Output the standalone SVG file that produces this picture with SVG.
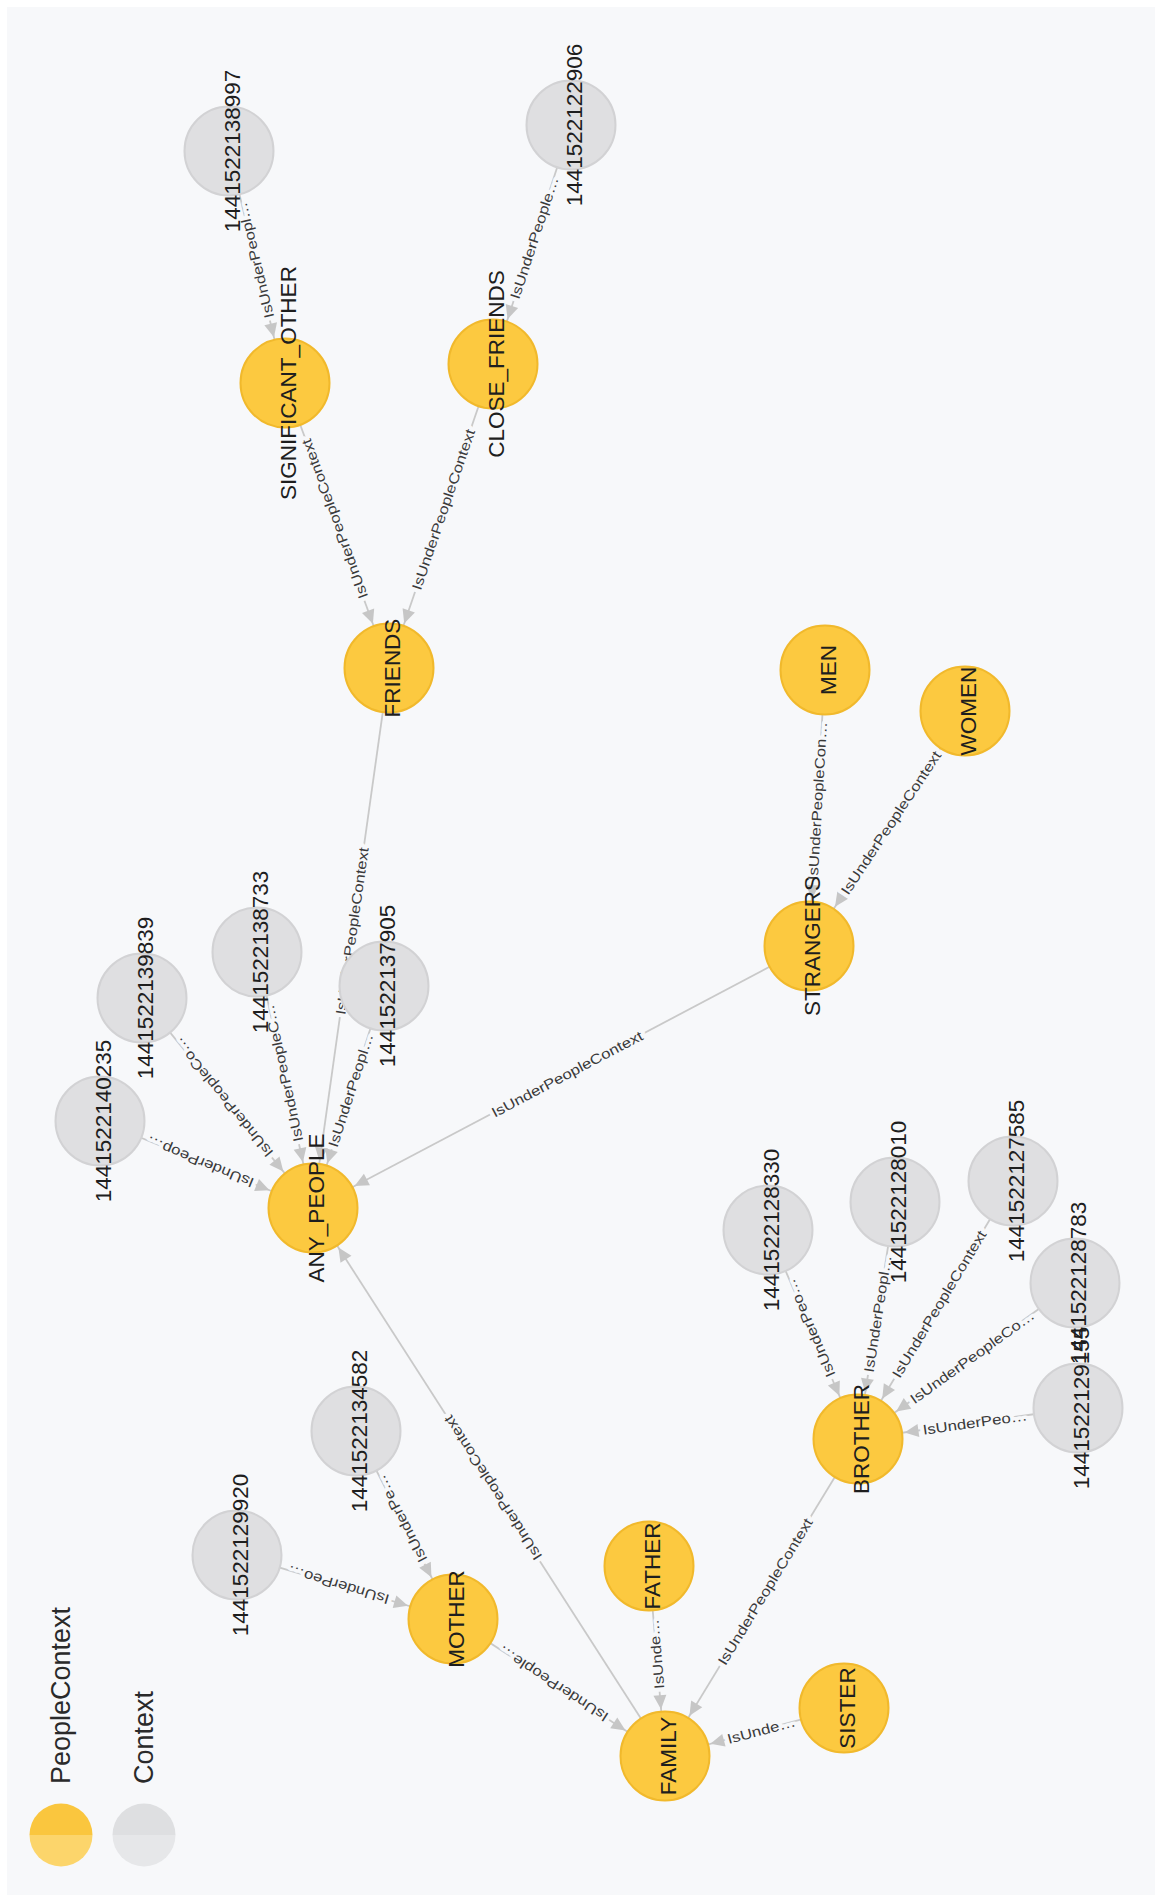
<svg xmlns="http://www.w3.org/2000/svg" width="1155" height="1895" viewBox="0 0 1155 1895">
  <style>
    .edge line { stroke: #c9c9c9; stroke-width: 1.8; marker-end: url(#arrow); }
    .elabel { font-family: "Liberation Sans", Arial, sans-serif; font-size: 14px; fill: #3a3a3a; text-anchor: middle; dominant-baseline: central; stroke: #f7f8fa; stroke-width: 7; stroke-linejoin: round; paint-order: stroke; }
    .people circle { fill: #fcc940; stroke: #f1b92c; stroke-width: 2; }
    .context circle { fill: #dfdfe1; stroke: #d2d2d4; stroke-width: 2; }
    .caption { font-family: "Liberation Sans", Arial, sans-serif; font-size: 22.5px; fill: #1e1e1e; text-anchor: middle; }
    .legend-text { font-family: "Liberation Sans", Arial, sans-serif; font-size: 27px; fill: #2a2a2a; }
  </style>
  <defs>
    <marker id="arrow" markerUnits="userSpaceOnUse" markerWidth="14" markerHeight="13" refX="61" refY="6.5" orient="auto" style="overflow:visible">
      <path d="M0,0 L14,6.5 L0,13 Z" fill="#c6c6c6"/>
    </marker>
  </defs>

  <!-- page and panel background -->
  <rect x="0" y="0" width="1155" height="1895" fill="#ffffff"/>
  <rect x="7" y="7" width="1148" height="1888" fill="#f7f8fa"/>

  <!-- relationships: drawn centre to centre, arrow placed at the target border -->
  <g id="connectors">
    <g class="edge">
      <line x1="229" y1="151" x2="285" y2="383"/>
      <line x1="571" y1="125" x2="493" y2="364"/>
      <line x1="285" y1="383" x2="389" y2="668"/>
      <line x1="493" y1="364" x2="389" y2="668"/>
      <line x1="389" y1="668" x2="313" y2="1208"/>
      <line x1="825" y1="670" x2="809" y2="946"/>
      <line x1="965" y1="711" x2="809" y2="946"/>
      <line x1="809" y1="946" x2="313" y2="1208"/>
      <line x1="100" y1="1121" x2="313" y2="1208"/>
      <line x1="142" y1="998" x2="313" y2="1208"/>
      <line x1="257" y1="952" x2="313" y2="1208"/>
      <line x1="384" y1="986" x2="313" y2="1208"/>
      <line x1="665" y1="1756" x2="313" y2="1208"/>
      <line x1="356" y1="1431" x2="453" y2="1619"/>
      <line x1="237" y1="1555" x2="453" y2="1619"/>
      <line x1="453" y1="1619" x2="665" y2="1756"/>
      <line x1="649" y1="1566" x2="665" y2="1756"/>
      <line x1="858" y1="1439" x2="665" y2="1756"/>
      <line x1="844" y1="1708" x2="665" y2="1756"/>
      <line x1="768" y1="1230" x2="858" y2="1439"/>
      <line x1="895" y1="1202" x2="858" y2="1439"/>
      <line x1="1013" y1="1181" x2="858" y2="1439"/>
      <line x1="1075" y1="1283" x2="858" y2="1439"/>
      <line x1="1078" y1="1408" x2="858" y2="1439"/>
    </g>
    <g class="edge-labels">
      <text class="elabel" transform="translate(255.4,260.2) rotate(-103.57) scale(1.2,1)">IsUnderPeopl…</text>
      <text class="elabel" transform="translate(534.2,237.8) rotate(-71.93) scale(1.2,1)">IsUnderPeople…</text>
      <text class="elabel" transform="translate(334.6,518.9) rotate(-110.05) scale(1.2,1)">IsUnderPeopleContext</text>
      <text class="elabel" transform="translate(443.3,509.4) rotate(-71.11) scale(1.2,1)">IsUnderPeopleContext</text>
      <text class="elabel" transform="translate(352,931) rotate(-81.99) scale(1.2,1)">IsUnderPeopleContext</text>
      <text class="elabel" transform="translate(817.4,801) rotate(-86.68) scale(1.2,1)">IsUnderPeopleCon…</text>
      <text class="elabel" transform="translate(890.9,822.7) rotate(-56.42) scale(1.2,1)">IsUnderPeopleContext</text>
      <text class="elabel" transform="translate(567,1074) rotate(-27.84) scale(1.2,1)">IsUnderPeopleContext</text>
      <text class="elabel" transform="translate(200,1162) rotate(-157.78) scale(1.2,1)">IsUnderPeop…</text>
      <text class="elabel" transform="translate(223.1,1097.6) rotate(-129.16) scale(1.2,1)">IsUnderPeopleCo…</text>
      <text class="elabel" transform="translate(283.5,1073.2) rotate(-102.34) scale(1.2,1)">IsUnderPeopleC…</text>
      <text class="elabel" transform="translate(350.6,1090.3) rotate(-72.26) scale(1.2,1)">IsUnderPeopl…</text>
      <text class="elabel" transform="translate(492.8,1487.9) rotate(-122.71) scale(1.2,1)">IsUnderPeopleContext</text>
      <text class="elabel" transform="translate(401.3,1518.8) rotate(-117.29) scale(1.2,1)">IsUnderPe…</text>
      <text class="elabel" transform="translate(338.3,1585) rotate(-163.5) scale(1.2,1)">IsUnderPeo…</text>
      <text class="elabel" transform="translate(553.1,1683.7) rotate(-147.13) scale(1.2,1)">IsUnderPeople…</text>
      <text class="elabel" transform="translate(656.4,1654) rotate(-94.81) scale(1.2,1)">IsUnde…</text>
      <text class="elabel" transform="translate(765.1,1591.5) rotate(-58.67) scale(1.2,1)">IsUnderPeopleContext</text>
      <text class="elabel" transform="translate(761.3,1730.2) rotate(-15.01) scale(1.2,1)">IsUnde…</text>
      <text class="elabel" transform="translate(810.2,1328.1) rotate(-113.3) scale(1.2,1)">IsUnderPeo…</text>
      <text class="elabel" transform="translate(877.6,1313.6) rotate(-81.13) scale(1.2,1)">IsUnderPeopl…</text>
      <text class="elabel" transform="translate(939.1,1304) rotate(-59) scale(1.2,1)">IsUnderPeopleContext</text>
      <text class="elabel" transform="translate(972.2,1356.9) rotate(-35.71) scale(1.2,1)">IsUnderPeopleCo…</text>
      <text class="elabel" transform="translate(974.9,1422.5) rotate(-8.02) scale(1.2,1)">IsUnderPeo…</text>
    </g>
  </g>

  <!-- nodes -->
  <g id="nodes">
    <g id="n-1441522138997" class="context"><circle cx="229" cy="151" r="44.5"/><text class="caption" transform="translate(229,151) rotate(-90)" y="11">1441522138997</text></g>
    <g id="n-1441522122906" class="context"><circle cx="571" cy="125" r="44.5"/><text class="caption" transform="translate(571,125) rotate(-90)" y="11">1441522122906</text></g>
    <g id="n-significant-other" class="people"><circle cx="285" cy="383" r="44.5"/><text class="caption" transform="translate(285,383) rotate(-90)" y="11">SIGNIFICANT_OTHER</text></g>
    <g id="n-close-friends" class="people"><circle cx="493" cy="364" r="44.5"/><text class="caption" transform="translate(493,364) rotate(-90)" y="11">CLOSE_FRIENDS</text></g>
    <g id="n-friends" class="people"><circle cx="389" cy="668" r="44.5"/><text class="caption" transform="translate(389,668) rotate(-90)" y="11">FRIENDS</text></g>
    <g id="n-men" class="people"><circle cx="825" cy="670" r="44.5"/><text class="caption" transform="translate(825,670) rotate(-90)" y="11">MEN</text></g>
    <g id="n-women" class="people"><circle cx="965" cy="711" r="44.5"/><text class="caption" transform="translate(965,711) rotate(-90)" y="11">WOMEN</text></g>
    <g id="n-strangers" class="people"><circle cx="809" cy="946" r="44.5"/><text class="caption" transform="translate(809,946) rotate(-90)" y="11">STRANGERS</text></g>
    <g id="n-1441522140235" class="context"><circle cx="100" cy="1121" r="44.5"/><text class="caption" transform="translate(100,1121) rotate(-90)" y="11">1441522140235</text></g>
    <g id="n-1441522139839" class="context"><circle cx="142" cy="998" r="44.5"/><text class="caption" transform="translate(142,998) rotate(-90)" y="11">1441522139839</text></g>
    <g id="n-1441522138733" class="context"><circle cx="257" cy="952" r="44.5"/><text class="caption" transform="translate(257,952) rotate(-90)" y="11">1441522138733</text></g>
    <g id="n-1441522137905" class="context"><circle cx="384" cy="986" r="44.5"/><text class="caption" transform="translate(384,986) rotate(-90)" y="11">1441522137905</text></g>
    <g id="n-any-people" class="people"><circle cx="313" cy="1208" r="44.5"/><text class="caption" transform="translate(313,1208) rotate(-90)" y="11">ANY_PEOPLE</text></g>
    <g id="n-1441522134582" class="context"><circle cx="356" cy="1431" r="44.5"/><text class="caption" transform="translate(356,1431) rotate(-90)" y="11">1441522134582</text></g>
    <g id="n-1441522129920" class="context"><circle cx="237" cy="1555" r="44.5"/><text class="caption" transform="translate(237,1555) rotate(-90)" y="11">1441522129920</text></g>
    <g id="n-mother" class="people"><circle cx="453" cy="1619" r="44.5"/><text class="caption" transform="translate(453,1619) rotate(-90)" y="11">MOTHER</text></g>
    <g id="n-father" class="people"><circle cx="649" cy="1566" r="44.5"/><text class="caption" transform="translate(649,1566) rotate(-90)" y="11">FATHER</text></g>
    <g id="n-family" class="people"><circle cx="665" cy="1756" r="44.5"/><text class="caption" transform="translate(665,1756) rotate(-90)" y="11">FAMILY</text></g>
    <g id="n-sister" class="people"><circle cx="844" cy="1708" r="44.5"/><text class="caption" transform="translate(844,1708) rotate(-90)" y="11">SISTER</text></g>
    <g id="n-1441522128330" class="context"><circle cx="768" cy="1230" r="44.5"/><text class="caption" transform="translate(768,1230) rotate(-90)" y="11">1441522128330</text></g>
    <g id="n-1441522128010" class="context"><circle cx="895" cy="1202" r="44.5"/><text class="caption" transform="translate(895,1202) rotate(-90)" y="11">1441522128010</text></g>
    <g id="n-1441522127585" class="context"><circle cx="1013" cy="1181" r="44.5"/><text class="caption" transform="translate(1013,1181) rotate(-90)" y="11">1441522127585</text></g>
    <g id="n-1441522128783" class="context"><circle cx="1075" cy="1283" r="44.5"/><text class="caption" transform="translate(1075,1283) rotate(-90)" y="11">1441522128783</text></g>
    <g id="n-1441522129155" class="context"><circle cx="1078" cy="1408" r="44.5"/><text class="caption" transform="translate(1078,1408) rotate(-90)" y="11">1441522129155</text></g>
    <g id="n-brother" class="people"><circle cx="858" cy="1439" r="44.5"/><text class="caption" transform="translate(858,1439) rotate(-90)" y="11">BROTHER</text></g>
  </g>

  <!-- legend -->
  <g id="legend">
    <path d="M29.5,1835 A31.5,31.5 0 0 1 92.5,1835 Z" fill="#fac63e"/>
    <path d="M29.5,1835 A31.5,31.5 0 0 0 92.5,1835 Z" fill="#fcd56b"/>
    <path d="M112.5,1835 A31.5,31.5 0 0 1 175.5,1835 Z" fill="#dedfe1"/>
    <path d="M112.5,1835 A31.5,31.5 0 0 0 175.5,1835 Z" fill="#e6e7e9"/>
    <text class="legend-text" transform="translate(70,1784) rotate(-90)">PeopleContext</text>
    <text class="legend-text" transform="translate(153,1784) rotate(-90)">Context</text>
  </g>
</svg>
